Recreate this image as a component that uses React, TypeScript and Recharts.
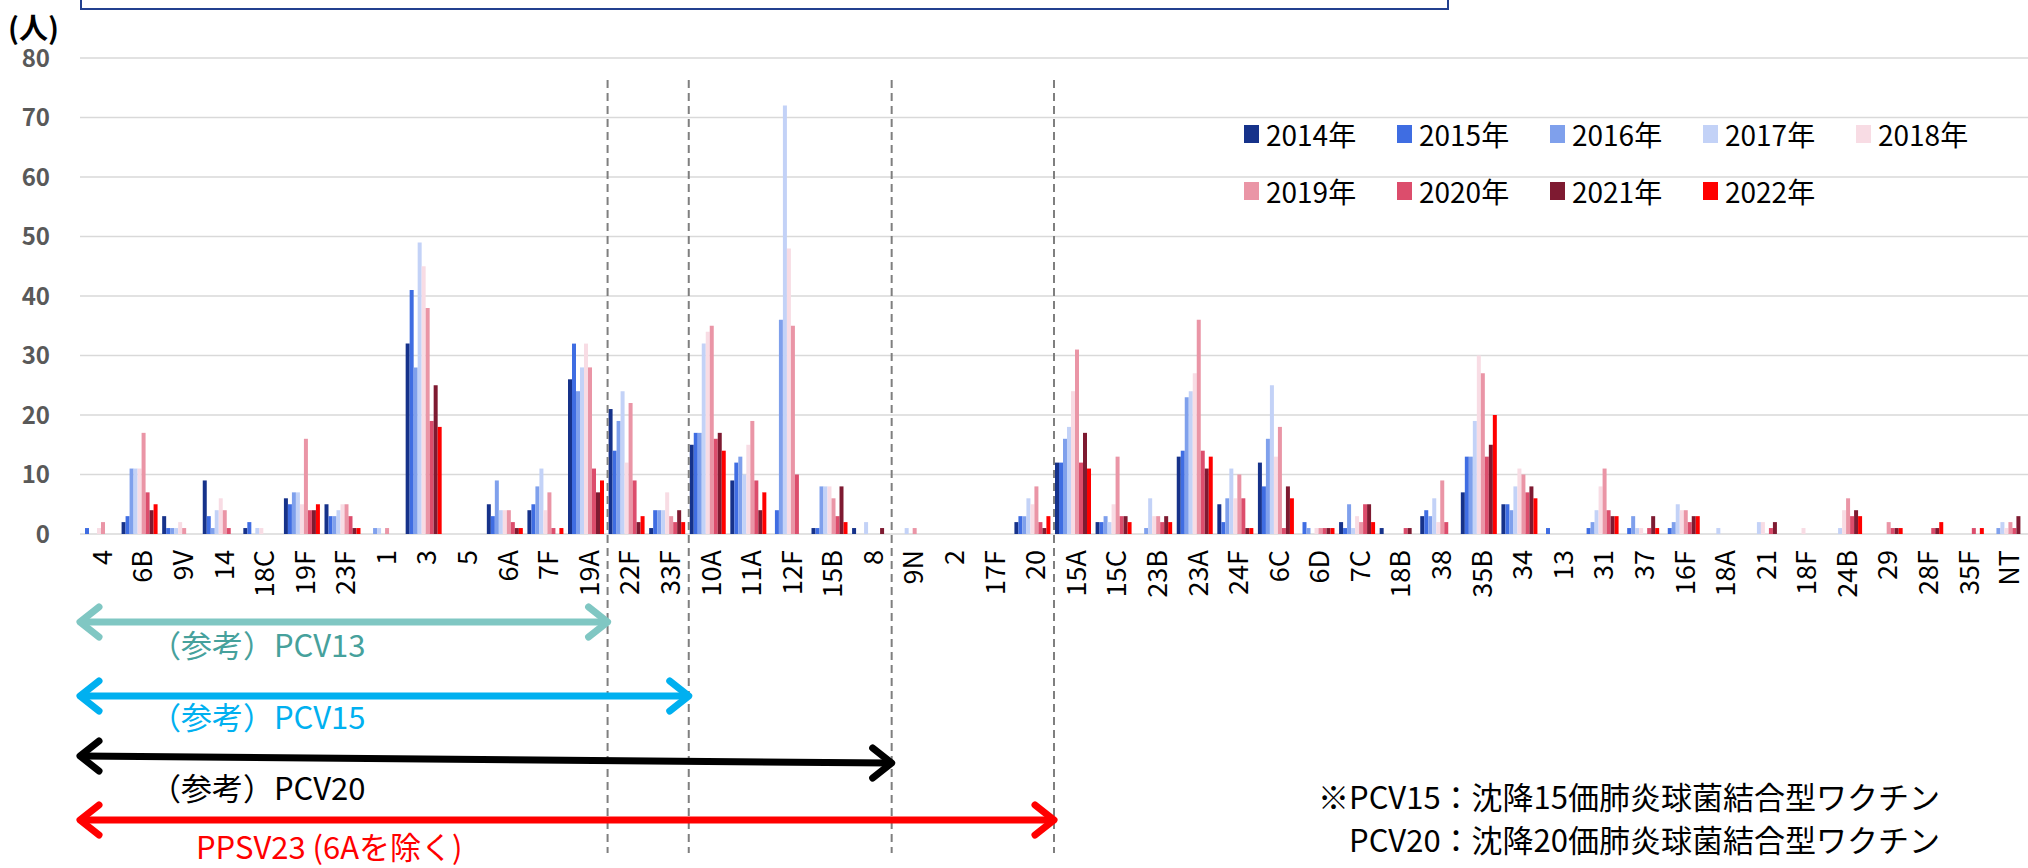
import React from 'react';
import { BarChart, Bar, XAxis, YAxis, CartesianGrid } from 'recharts';

const categories = ['4', '6B', '9V', '14', '18C', '19F', '23F', '1', '3', '5', '6A', '7F', '19A', '22F', '33F', '10A', '11A', '12F', '15B', '8', '9N', '2', '17F', '20', '15A', '15C', '23B', '23A', '24F', '6C', '6D', '7C', '18B', '38', '35B', '34', '13', '31', '37', '16F', '18A', '21', '18F', '24B', '29', '28F', '35F', 'NT'];

const y2014 = [0, 2, 3, 9, 1, 6, 5, 0, 32, 0, 5, 4, 26, 21, 1, 15, 9, 0, 1, 1, 0, 0, 0, 2, 12, 2, 0, 13, 5, 12, 0, 2, 1, 3, 7, 5, 0, 0, 0, 0, 0, 0, 0, 0, 0, 0, 0, 0];
const y2015 = [1, 3, 1, 3, 2, 5, 3, 0, 41, 0, 3, 5, 32, 14, 4, 17, 12, 4, 1, 0, 0, 0, 0, 3, 12, 2, 0, 14, 2, 8, 2, 1, 0, 4, 13, 5, 1, 1, 1, 1, 0, 0, 0, 0, 0, 0, 0, 0];
const y2016 = [0, 11, 1, 1, 0, 7, 3, 1, 28, 0, 9, 8, 24, 19, 4, 17, 13, 36, 8, 0, 0, 0, 0, 3, 16, 3, 1, 23, 6, 16, 1, 5, 0, 3, 13, 4, 0, 2, 3, 2, 0, 0, 0, 0, 0, 0, 0, 1];
const y2017 = [0, 11, 1, 4, 1, 7, 4, 1, 49, 0, 4, 11, 28, 24, 4, 32, 10, 72, 8, 2, 1, 0, 0, 6, 18, 2, 6, 24, 11, 25, 0, 1, 0, 6, 19, 8, 0, 4, 1, 5, 1, 2, 0, 1, 0, 0, 0, 2];
const y2018 = [1, 11, 2, 6, 1, 5, 5, 0, 45, 0, 4, 4, 32, 12, 7, 34, 15, 48, 8, 0, 0, 0, 0, 5, 24, 5, 3, 27, 6, 13, 1, 3, 0, 2, 30, 11, 0, 8, 1, 4, 0, 2, 1, 4, 0, 0, 0, 1];
const y2019 = [2, 17, 1, 4, 0, 16, 5, 1, 38, 0, 4, 7, 28, 22, 3, 35, 19, 35, 6, 0, 1, 0, 0, 8, 31, 13, 3, 36, 10, 18, 1, 2, 0, 9, 27, 10, 0, 11, 0, 4, 0, 0, 0, 6, 2, 0, 0, 2];
const y2020 = [0, 7, 0, 1, 0, 4, 3, 0, 19, 0, 2, 1, 11, 9, 2, 16, 9, 10, 3, 0, 0, 0, 0, 2, 12, 3, 2, 14, 6, 1, 1, 5, 1, 2, 13, 7, 0, 4, 1, 2, 0, 1, 0, 3, 1, 1, 1, 1];
const y2021 = [0, 4, 0, 0, 0, 4, 1, 0, 25, 0, 1, 0, 7, 2, 4, 17, 4, 0, 8, 1, 0, 0, 0, 1, 17, 3, 3, 11, 1, 8, 1, 5, 1, 0, 15, 8, 0, 3, 3, 3, 0, 2, 0, 4, 1, 1, 0, 3];
const y2022 = [0, 5, 0, 0, 0, 5, 1, 0, 18, 0, 1, 1, 9, 3, 2, 14, 7, 0, 2, 0, 0, 0, 0, 3, 11, 2, 2, 13, 1, 6, 1, 2, 0, 0, 20, 6, 0, 3, 1, 3, 0, 0, 0, 3, 1, 2, 1, 0];

const years = ['2014年', '2015年', '2016年', '2017年', '2018年', '2019年', '2020年', '2021年', '2022年'];
const yearValues = [y2014, y2015, y2016, y2017, y2018, y2019, y2020, y2021, y2022];
const colors = ['#16328A', '#3F6DE2', '#7FA0EC', '#C3D2F7', '#F8DCE4', '#EA95A6', '#DC4D6C', '#7E1A31', '#FF0000'];

const yTicks = [0, 10, 20, 30, 40, 50, 60, 70, 80];

// vaccine coverage: last serotype covered by each
const vaccines = [
  { label: '（参考）PCV13', last: '19A', line: '#80C7C3', text: '#46A19C' },
  { label: '（参考）PCV15', last: '33F', line: '#00B0F0', text: '#00B0F0' },
  { label: '（参考）PCV20', last: '8', line: '#000000', text: '#000000' },
  { label: 'PPSV23 (6Aを除く)', last: '20', line: '#FF0000', text: '#FF0000' },
];

const data = categories.map((name, i) => {
  const row: Record<string, any> = { name };
  years.forEach((y, k) => {
    row[y] = yearValues[k][i];
  });
  return row;
});

const W = 2028;
const H = 868;
const LEFT = 80;
const TOP = 58;
const BOTTOM = 534;
const band = (W - LEFT) / categories.length;
const edgeAfter = (cat: string) => LEFT + (categories.indexOf(cat) + 1) * band;

const FONT = '"Noto Sans CJK JP", "Noto Sans", sans-serif';

const XTick = (props: any) => {
  const { x, y, payload } = props;
  return (
    <text
      x={x}
      y={y}
      transform={`rotate(-90 ${x} ${y})`}
      textAnchor="end"
      dominantBaseline="central"
      fontSize={27}
      fontFamily={FONT}
      fill="#000"
    >
      {payload.value}
    </text>
  );
};

function Arrow({ x1, x2, y1, y2, color }: { x1: number; x2: number; y1: number; y2: number; color: string }) {
  return (
    <g stroke={color} strokeWidth={7} fill="none" strokeLinecap="round" strokeLinejoin="round">
      <line x1={x1 + 2} y1={y1} x2={x2 - 2} y2={y2} />
      <polyline points={`${x1 + 19},${y1 - 15} ${x1},${y1} ${x1 + 19},${y1 + 15}`} />
      <polyline points={`${x2 - 19},${y2 - 15} ${x2},${y2} ${x2 - 19},${y2 + 15}`} />
    </g>
  );
}

const arrowY = [622, 696, 758, 820];
const textY = [643, 715, 786, 845];
const textX = [150, 150, 150, 196];

export default function App() {
  return (
    <div style={{ position: 'absolute', left: 0, top: 0, width: W, height: H, background: '#fff', overflow: 'hidden' }}>
      <div
        style={{
          position: 'absolute',
          left: LEFT,
          top: -14,
          width: 1369,
          height: 24,
          border: '2px solid #23408F',
          boxSizing: 'border-box',
        }}
      />
      <svg width={W} height={H} style={{ position: 'absolute', left: 0, top: 0, pointerEvents: 'none' }}>
        <text x={8} y={26} dominantBaseline="central" fontSize={29} fontWeight={700} fontFamily={FONT} fill="#000">
          (人)
        </text>
      </svg>
      <BarChart
        width={W}
        height={H}
        data={data}
        margin={{ top: TOP, right: 0, bottom: H - BOTTOM - 70, left: 0 }}
        barCategoryGap={1}
        barGap={0}
      >
        <CartesianGrid vertical={false} stroke="#D9D9D9" strokeWidth={1.5} />
        <XAxis
          dataKey="name"
          interval={0}
          height={70}
          tickLine={false}
          axisLine={false}
          tickSize={0}
          tickMargin={16}
          tick={<XTick />}
        />
        <YAxis
          width={LEFT}
          domain={[0, 80]}
          ticks={yTicks}
          tickLine={false}
          axisLine={false}
          tickSize={0}
          tickMargin={30}
          tick={{ fontSize: 24, fontWeight: 700, fill: '#595959', fontFamily: FONT }}
        />
        {years.map((y, k) => (
          <Bar key={y} dataKey={y} fill={colors[k]} isAnimationActive={false} />
        ))}
      </BarChart>
      <svg width={W} height={H} style={{ position: 'absolute', left: 0, top: 0, pointerEvents: 'none' }}>
        {vaccines.map((v) => (
          <line
            key={'d' + v.last}
            x1={edgeAfter(v.last)}
            x2={edgeAfter(v.last)}
            y1={80}
            y2={853}
            stroke="#7F7F7F"
            strokeWidth={2}
            strokeDasharray="8 5"
          />
        ))}
        {vaccines.map((v, i) => (
          <g key={v.label}>
            <Arrow
              x1={LEFT}
              x2={edgeAfter(v.last)}
              y1={arrowY[i] - (i === 2 ? 2 : 0)}
              y2={arrowY[i] + (i === 2 ? 5 : 0)}
              color={v.line}
            />
            <text
              x={textX[i]}
              y={textY[i]}
              dominantBaseline="central"
              fontSize={31}
              fontFamily={FONT}
              fill={v.text}
            >
              {v.label}
            </text>
          </g>
        ))}
        {years.map((y, k) => {
          const col = k < 5 ? k : k - 5;
          const row = k < 5 ? 0 : 1;
          const x = 1244 + col * 153;
          const cy = 134 + row * 57;
          return (
            <g key={'l' + y}>
              <rect x={x} y={cy - 9} width={15} height={18} fill={colors[k]} />
              <text x={x + 22} y={cy} dominantBaseline="central" fontSize={28} fontFamily={FONT} fill="#000">
                {y}
              </text>
            </g>
          );
        })}
        <text x={1940} y={795} textAnchor="end" dominantBaseline="central" fontSize={31} fontFamily={FONT} fill="#000">
          ※PCV15：沈降15価肺炎球菌結合型ワクチン
        </text>
        <text x={1940} y={838} textAnchor="end" dominantBaseline="central" fontSize={31} fontFamily={FONT} fill="#000">
          PCV20：沈降20価肺炎球菌結合型ワクチン
        </text>
      </svg>
    </div>
  );
}
